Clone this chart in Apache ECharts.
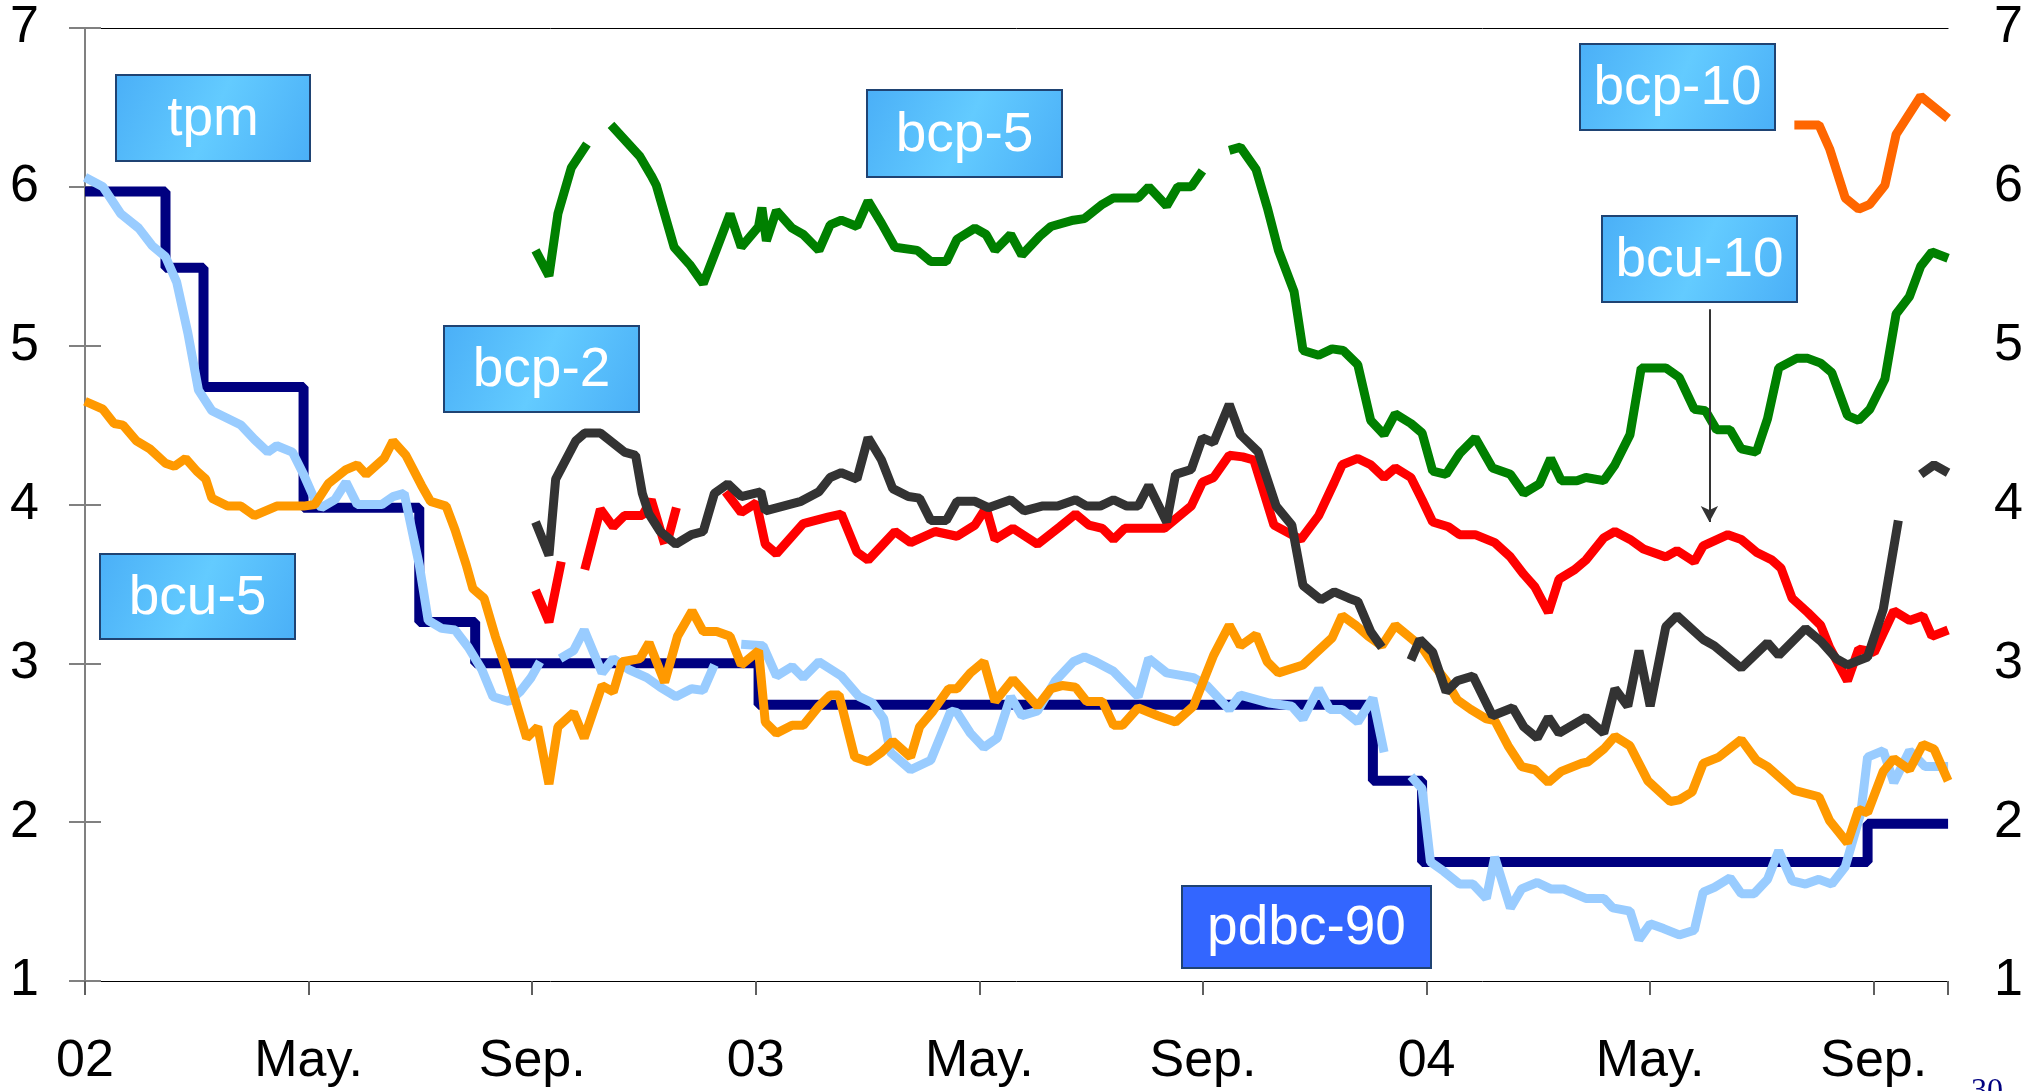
<!DOCTYPE html>
<html>
<head>
<meta charset="utf-8">
<title>tasas</title>
<script src="https://cdn.jsdelivr.net/npm/echarts@6.0.0/dist/echarts.min.js"></script>
<style>
    html, body { margin: 0; padding: 0; background: #fff; }
    #chartArea { width: 2026px; height: 1091px; }
</style>
</head>
<body>
<div id="chartArea"></div>
<script>
// x = meses desde ene-2002, y = tasa (%)
var tickLabels = ['02', 'May.', 'Sep.', '03', 'May.', 'Sep.', '04', 'May.', 'Sep.'];
var xMax = 33.33;

// tpm (escalonada)
var tpmDates = [0, 1.44, 2.12, 3.91, 5.98, 6.98, 12.05, 23.04, 23.92, 31.89, 33.33];
var tpmRates = [5.97, 5.49, 4.74, 3.98, 3.26, 3.00, 2.74, 2.26, 1.75, 1.99, 1.99];

var pdbc90 = [[0, 6.06], [0.32, 6.0], [0.64, 5.83], [0.96, 5.74], [1.2, 5.63], [1.44, 5.56], [1.64, 5.4], [1.84, 5.08],
    [2.03, 4.72], [2.27, 4.59], [2.79, 4.5], [3.03, 4.41], [3.27, 4.33], [3.43, 4.37], [3.71, 4.33], [3.91, 4.19],
    [4.11, 4.03], [4.23, 3.98], [4.47, 4.03], [4.67, 4.14], [4.87, 4.0], [5.31, 4.0], [5.51, 4.05], [5.71, 4.07],
    [5.98, 3.62], [6.14, 3.27], [6.38, 3.22], [6.62, 3.21], [6.86, 3.1], [7.1, 2.96], [7.3, 2.79], [7.58, 2.76],
    [7.78, 2.82], [7.98, 2.91], [8.14, 3.01], [8.3, '-'], [8.5, 3.03], [8.74, 3.08], [8.93, 3.21], [9.25, 2.94],
    [9.45, 3.03], [9.73, 2.96], [10.05, 2.91], [10.29, 2.85], [10.57, 2.79], [10.85, 2.84], [11.06, 2.83], [11.26, 2.99],
    [11.5, '-'], [11.74, 3.12], [12.13, 3.11], [12.37, 2.92], [12.65, 2.98], [12.85, 2.91], [13.13, 3.01], [13.53, 2.92],
    [13.85, 2.79], [14.09, 2.75], [14.29, 2.65], [14.41, 2.44], [14.77, 2.33], [15.13, 2.39], [15.49, 2.7], [15.6, 2.69],
    [15.84, 2.56], [16.08, 2.47], [16.32, 2.53], [16.56, 2.79], [16.76, 2.67], [17.04, 2.7], [17.36, 2.89], [17.68, 3.01],
    [17.88, 3.04], [18.08, 3.01], [18.4, 2.95], [18.84, 2.79], [19.03, 3.03], [19.35, 2.94], [19.83, 2.91], [20.07, 2.86],
    [20.47, 2.71], [20.67, 2.8], [21.19, 2.75], [21.59, 2.73], [21.79, 2.65], [22.07, 2.84], [22.27, 2.71], [22.49, 2.71],
    [22.77, 2.63], [23.04, 2.78], [23.24, 2.44], [23.5, '-'], [23.72, 2.29], [23.92, 2.21], [24.07, 1.75], [24.31, 1.69],
    [24.59, 1.61], [24.83, 1.61], [25.07, 1.52], [25.22, 1.78], [25.5, 1.46], [25.7, 1.58], [25.98, 1.62], [26.22, 1.58],
    [26.45, 1.58], [26.85, 1.52], [27.17, 1.52], [27.33, 1.46], [27.64, 1.44], [27.8, 1.26], [28.0, 1.36], [28.24, 1.33],
    [28.52, 1.29], [28.79, 1.32], [28.95, 1.56], [29.15, 1.59], [29.43, 1.65], [29.63, 1.55], [29.86, 1.55], [30.1, 1.64],
    [30.3, 1.82], [30.54, 1.63], [30.78, 1.61], [31.02, 1.64], [31.25, 1.61], [31.49, 1.72], [31.77, 2.06], [31.89, 2.41],
    [32.17, 2.45], [32.36, 2.25], [32.64, 2.45], [32.92, 2.35], [33.33, 2.35]];

var bcu5 = [[0, 4.65], [0.32, 4.6], [0.52, 4.51], [0.68, 4.5], [0.92, 4.4], [1.16, 4.35], [1.44, 4.26], [1.6, 4.24],
    [1.8, 4.29], [2.0, 4.21], [2.16, 4.16], [2.27, 4.04], [2.55, 3.99], [2.79, 3.99], [3.03, 3.93], [3.43, 3.99],
    [3.91, 3.99], [4.11, 4.0], [4.35, 4.13], [4.67, 4.22], [4.87, 4.25], [5.03, 4.19], [5.35, 4.29], [5.51, 4.4],
    [5.74, 4.31], [6.02, 4.12], [6.18, 4.02], [6.46, 3.99], [6.62, 3.84], [6.82, 3.62], [6.94, 3.47], [7.14, 3.41],
    [7.34, 3.17], [7.54, 2.96], [7.74, 2.72], [7.9, 2.53], [8.1, 2.6], [8.3, 2.24], [8.46, 2.6], [8.74, 2.69],
    [8.93, 2.53], [9.25, 2.86], [9.45, 2.82], [9.61, 3.01], [9.93, 3.03], [10.09, 3.13], [10.37, 2.88], [10.6, 3.17],
    [10.86, 3.33], [11.06, 3.2], [11.3, 3.2], [11.54, 3.17], [11.74, 2.99], [12.05, 3.08], [12.17, 2.63], [12.37, 2.56],
    [12.65, 2.61], [12.85, 2.61], [13.13, 2.73], [13.33, 2.8], [13.49, 2.8], [13.77, 2.41], [14.01, 2.38], [14.25, 2.44],
    [14.45, 2.51], [14.77, 2.41], [14.93, 2.6], [15.17, 2.7], [15.45, 2.84], [15.6, 2.84], [15.84, 2.94], [16.08, 3.01],
    [16.28, 2.76], [16.6, 2.9], [17.04, 2.73], [17.28, 2.84], [17.48, 2.86], [17.72, 2.85], [17.92, 2.76], [18.2, 2.76],
    [18.4, 2.61], [18.56, 2.61], [18.84, 2.72], [19.19, 2.67], [19.51, 2.63], [19.83, 2.73], [20.19, 3.05], [20.47, 3.24],
    [20.67, 3.11], [20.95, 3.18], [21.15, 3.01], [21.35, 2.94], [21.79, 2.99], [22.31, 3.16], [22.49, 3.3], [22.73, 3.24],
    [22.96, 3.17], [23.2, 3.11], [23.44, 3.24], [23.68, 3.17], [23.92, 3.1], [24.15, 2.98], [24.35, 2.89], [24.55, 2.77],
    [24.79, 2.71], [25.07, 2.65], [25.22, 2.64], [25.46, 2.48], [25.7, 2.35], [25.94, 2.33], [26.18, 2.25], [26.41, 2.32],
    [26.77, 2.37], [26.89, 2.38], [27.17, 2.46], [27.37, 2.54], [27.64, 2.48], [27.96, 2.26], [28.36, 2.13], [28.52, 2.14],
    [28.75, 2.19], [28.95, 2.37], [29.23, 2.41], [29.63, 2.52], [29.9, 2.39], [30.1, 2.35], [30.58, 2.2], [31.02, 2.16],
    [31.21, 2.01], [31.53, 1.87], [31.73, 2.08], [31.89, 2.06], [32.17, 2.32], [32.36, 2.4], [32.64, 2.33], [32.88, 2.49],
    [33.08, 2.46], [33.33, 2.26]];

var bcu10 = [[8.06, 3.46], [8.3, 3.26], [8.52, 3.64], [8.7, '-'], [8.94, 3.59], [9.22, 3.97], [9.45, 3.86], [9.65, 3.93],
    [9.97, 3.93], [10.13, 4.03], [10.37, 3.75], [10.4, '-'], [10.42, 3.77], [10.58, 3.98], [11.0, '-'], [11.46, 4.08],
    [11.74, 3.95], [12.01, 4.01], [12.17, 3.75], [12.37, 3.69], [12.85, 3.88], [13.29, 3.92], [13.53, 3.94], [13.81, 3.7],
    [14.01, 3.65], [14.25, 3.74], [14.49, 3.83], [14.77, 3.76], [15.21, 3.83], [15.6, 3.8], [15.92, 3.87], [16.12, 3.98],
    [16.28, 3.78], [16.6, 3.85], [17.04, 3.75], [17.44, 3.86], [17.72, 3.94], [17.96, 3.87], [18.2, 3.85], [18.4, 3.78],
    [18.6, 3.85], [19.31, 3.85], [19.79, 3.99], [19.99, 4.14], [20.19, 4.17], [20.47, 4.31], [20.71, 4.3], [20.91, 4.28],
    [21.27, 3.87], [21.75, 3.78], [22.07, 3.93], [22.35, 4.14], [22.49, 4.25], [22.77, 4.29], [23.0, 4.25], [23.24, 4.17],
    [23.44, 4.23], [23.72, 4.17], [23.92, 4.03], [24.11, 3.89], [24.39, 3.86], [24.59, 3.81], [24.87, 3.81], [25.22, 3.76],
    [25.5, 3.67], [25.74, 3.56], [25.94, 3.48], [26.18, 3.32], [26.37, 3.53], [26.65, 3.59], [26.85, 3.65], [27.17, 3.79],
    [27.37, 3.83], [27.64, 3.78], [27.88, 3.72], [28.28, 3.67], [28.48, 3.71], [28.79, 3.64], [28.95, 3.74], [29.39, 3.81],
    [29.63, 3.78], [29.9, 3.7], [30.18, 3.65], [30.34, 3.6], [30.54, 3.41], [30.82, 3.32], [31.05, 3.24], [31.21, 3.1],
    [31.53, 2.89], [31.73, 3.09], [32.01, 3.07], [32.36, 3.33], [32.64, 3.27], [32.88, 3.3], [33.04, 3.17], [33.33, 3.21]];

var bcp2 = [[8.06, 3.89], [8.3, 3.68], [8.42, 4.16], [8.78, 4.4], [8.94, 4.45], [9.22, 4.45], [9.65, 4.33], [9.85, 4.31],
    [9.97, 4.07], [10.09, 3.94], [10.29, 3.83], [10.57, 3.75], [10.85, 3.81], [11.06, 3.83], [11.26, 4.07], [11.5, 4.13],
    [11.74, 4.05], [12.09, 4.08], [12.17, 3.96], [12.49, 3.99], [12.81, 4.02], [13.13, 4.08], [13.33, 4.17], [13.53, 4.2],
    [13.81, 4.16], [14.01, 4.42], [14.25, 4.28], [14.45, 4.1], [14.73, 4.05], [14.93, 4.04], [15.13, 3.9], [15.41, 3.9],
    [15.6, 4.02], [15.92, 4.02], [16.16, 3.98], [16.56, 4.03], [16.8, 3.96], [17.12, 3.99], [17.4, 3.99], [17.72, 4.03],
    [17.92, 3.99], [18.16, 3.99], [18.4, 4.03], [18.64, 3.99], [18.84, 3.99], [19.03, 4.12], [19.35, 3.89], [19.51, 4.19],
    [19.79, 4.22], [19.99, 4.42], [20.19, 4.39], [20.47, 4.63], [20.67, 4.44], [20.99, 4.33], [21.31, 3.99], [21.59, 3.87],
    [21.79, 3.49], [22.11, 3.4], [22.35, 3.45], [22.61, 3.41], [22.77, 3.39], [23.0, 3.2], [23.2, 3.1], [23.45, '-'],
    [23.72, 3.02], [23.88, 3.15], [24.11, 3.07], [24.35, 2.82], [24.55, 2.89], [24.83, 2.92], [25.18, 2.67], [25.54, 2.72],
    [25.74, 2.6], [25.98, 2.53], [26.18, 2.66], [26.37, 2.56], [26.85, 2.66], [27.17, 2.56], [27.37, 2.84], [27.6, 2.73],
    [27.8, 3.08], [28.0, 2.73], [28.28, 3.23], [28.48, 3.3], [28.95, 3.15], [29.15, 3.11], [29.63, 2.97], [30.1, 3.13],
    [30.3, 3.05], [30.78, 3.22], [31.05, 3.14], [31.33, 3.03], [31.53, 2.99], [31.89, 3.04], [32.17, 3.34], [32.44, 3.9],
    [32.6, '-'], [32.84, 4.19], [33.08, 4.25], [33.33, 4.2]];

var bcp5 = [[8.06, 5.6], [8.3, 5.44], [8.46, 5.83], [8.7, 6.12], [8.98, 6.27], [9.2, '-'], [9.41, 6.39], [9.93, 6.19],
    [10.13, 6.07], [10.22, 6.01], [10.54, 5.62], [10.82, 5.51], [11.06, 5.39], [11.3, 5.61], [11.54, 5.83], [11.74, 5.62],
    [12.05, 5.75], [12.11, 5.87], [12.19, 5.66], [12.37, 5.85], [12.65, 5.74], [12.85, 5.7], [13.13, 5.6], [13.33, 5.76],
    [13.53, 5.79], [13.81, 5.75], [14.01, 5.91], [14.25, 5.77], [14.49, 5.62], [14.89, 5.6], [15.13, 5.53], [15.41, 5.53],
    [15.6, 5.67], [15.92, 5.74], [16.12, 5.7], [16.28, 5.6], [16.56, 5.7], [16.76, 5.57], [17.08, 5.69], [17.28, 5.75],
    [17.68, 5.79], [17.88, 5.8], [18.2, 5.89], [18.4, 5.93], [18.84, 5.93], [19.03, 6.0], [19.35, 5.88], [19.55, 6.0],
    [19.79, 6.0], [19.99, 6.1], [20.2, '-'], [20.47, 6.23], [20.67, 6.25], [20.95, 6.11], [21.15, 5.87], [21.35, 5.6],
    [21.63, 5.34], [21.79, 4.97], [22.07, 4.94], [22.31, 4.98], [22.51, 4.97], [22.77, 4.88], [23.0, 4.53], [23.24, 4.44],
    [23.44, 4.57], [23.72, 4.51], [23.92, 4.45], [24.11, 4.21], [24.35, 4.19], [24.59, 4.32], [24.87, 4.42], [25.18, 4.23],
    [25.5, 4.19], [25.74, 4.07], [26.02, 4.13], [26.22, 4.29], [26.41, 4.15], [26.69, 4.15], [26.85, 4.17], [27.17, 4.15],
    [27.37, 4.25], [27.64, 4.44], [27.84, 4.86], [28.28, 4.86], [28.52, 4.8], [28.79, 4.6], [28.99, 4.59], [29.19, 4.47],
    [29.43, 4.47], [29.63, 4.35], [29.9, 4.33], [30.1, 4.54], [30.3, 4.86], [30.62, 4.92], [30.82, 4.92], [31.05, 4.89],
    [31.25, 4.83], [31.53, 4.56], [31.73, 4.53], [31.93, 4.6], [32.2, 4.79], [32.4, 5.2], [32.64, 5.31], [32.84, 5.5],
    [33.04, 5.59], [33.33, 5.55]];

var bcp10 = [[30.58, 6.39], [31.02, 6.39], [31.21, 6.24], [31.49, 5.93], [31.73, 5.86], [31.93, 5.89], [32.2, 6.01],
    [32.4, 6.33], [32.84, 6.57], [33.33, 6.43]];

// flecha desde la caja bcu-10
var arrowFrom = [29.06, 5.23];
var arrowTo = [29.06, 3.89];

var dom = document.getElementById('chartArea');
var myChart = echarts.init(dom);

var tpmData = [];
for (var i = 0; i < tpmDates.length; i++) {
    tpmData.push([tpmDates[i], tpmRates[i]]);
}

var fontFam = '"Liberation Sans", Arial, sans-serif';

function lineSeries(name, data, color, width) {
    return {
        name: name,
        type: 'line',
        data: data,
        showSymbol: false,
        symbol: 'none',
        connectNulls: false,
        lineStyle: { color: color, width: width || 9 },
        animation: false
    };
}

function boxFill() {
    return new echarts.graphic.LinearGradient(0, 0, 1, 1, [
        { offset: 0, color: '#4AAFF7' },
        { offset: 0.5, color: '#63CBFF' },
        { offset: 1, color: '#4AAFF7' }
    ]);
}

// caja con texto centrado
function labelBox(text, x, y, w, h, fill) {
    return {
        type: 'group',
        left: x,
        top: y,
        z: 100,
        children: [{
            type: 'rect',
            shape: { x: 0, y: 0, width: w, height: h },
            style: { fill: fill, stroke: '#1F4373', lineWidth: 2 }
        }, {
            type: 'text',
            x: w / 2,
            y: h / 2 + 2,
            style: {
                text: text,
                fill: '#fff',
                font: '55px ' + fontFam,
                align: 'center',
                verticalAlign: 'middle',
                textAlign: 'center',
                textVerticalAlign: 'middle'
            }
        }]
    };
}

var yAxisBase = {
    type: 'value',
    min: 1,
    max: 7,
    interval: 1,
    splitLine: { show: false },
    axisLine: { show: true, lineStyle: { color: '#808080', width: 2 } },
    axisTick: { show: true, length: 16, lineStyle: { color: '#808080', width: 2 } },
    axisLabel: { fontSize: 52, fontFamily: fontFam, color: '#000', margin: 46 }
};

var option = {
    backgroundColor: '#fff',
    animation: false,
    grid: { left: 85, right: 76, top: 28, bottom: 110 },
    xAxis: [{
        type: 'value',
        min: 0,
        max: xMax,
        interval: 4,
        splitLine: { show: false },
        axisLine: { lineStyle: { color: '#000', width: 1 } },
        axisTick: { length: 14, lineStyle: { color: '#606060', width: 2 } },
        axisLabel: {
            fontSize: 52,
            fontFamily: fontFam,
            color: '#000',
            margin: 55,
            formatter: function (v) {
                if (v % 4 === 0 && v / 4 < tickLabels.length) {
                    return tickLabels[v / 4];
                }
                return '';
            }
        }
    }, {
        type: 'value',
        position: 'top',
        min: 0,
        max: xMax,
        splitLine: { show: false },
        axisLine: { show: true, lineStyle: { color: '#000', width: 1 } },
        axisTick: { show: false },
        axisLabel: { show: false }
    }],
    yAxis: [
        echarts.util.merge({ position: 'left' }, yAxisBase, true),
        echarts.util.merge({ position: 'right' }, yAxisBase, true)
    ],
    series: [
        echarts.util.extend(lineSeries('tpm', tpmData, '#000080', 10), { step: 'end' }),
        lineSeries('pdbc-90', pdbc90, '#99CCFF'),
        lineSeries('bcu-5', bcu5, '#FF9900'),
        lineSeries('bcu-10', bcu10, '#FF0000'),
        lineSeries('bcp-2', bcp2, '#333333'),
        echarts.util.extend(lineSeries('bcp-5', bcp5, '#008000'), {
            markLine: {
                silent: true,
                animation: false,
                symbol: ['none', 'arrow'],
                symbolSize: [13, 16],
                label: { show: false },
                lineStyle: { color: '#333333', width: 2, type: 'solid' },
                data: [[{ coord: arrowFrom }, { coord: arrowTo }]]
            }
        }),
        lineSeries('bcp-10', bcp10, '#FF6600')
    ],
    graphic: [
        labelBox('tpm', 115, 74, 194, 86, boxFill()),
        labelBox('bcp-2', 443, 325, 195, 86, boxFill()),
        labelBox('bcu-5', 99, 553, 195, 85, boxFill()),
        labelBox('bcp-5', 866, 89, 195, 87, boxFill()),
        labelBox('bcp-10', 1579, 43, 195, 86, boxFill()),
        labelBox('bcu-10', 1601, 215, 195, 86, boxFill()),
        labelBox('pdbc-90', 1181, 885, 249, 82, '#3366FF'),
        {
            type: 'text',
            left: 1971,
            top: 1076,
            style: { text: '30', fill: '#000080', font: '32px "Liberation Serif", serif' }
        }
    ]
};

myChart.setOption(option);
</script>
</body>
</html>
